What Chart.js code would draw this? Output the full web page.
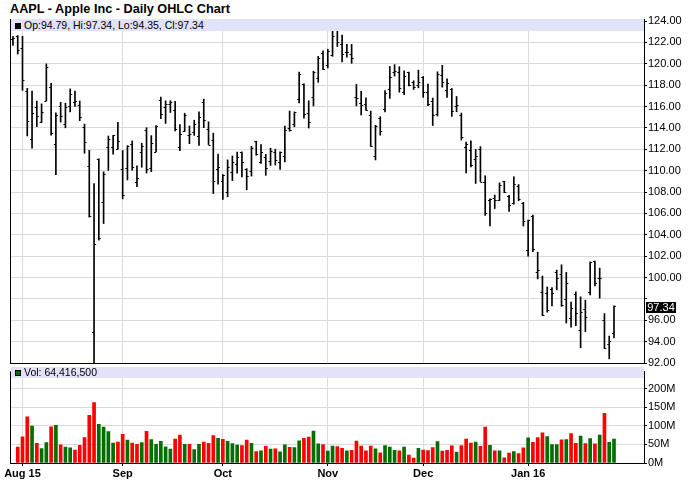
<!DOCTYPE html>
<html lang="en">
<head>
<meta charset="utf-8">
<title>AAPL - Apple Inc - Daily OHLC Chart</title>
<script src="https://cdn.jsdelivr.net/npm/chart.js@4.4.1/dist/chart.umd.min.js"></script>
<style>
    body { margin: 0; background: #fff; font-family: "Liberation Sans", Arial, sans-serif; }
    #wrap { position: relative; width: 688px; height: 503px; overflow: hidden; }
    #title { position: absolute; left: 10px; top: 2px; font-weight: bold; font-size: 12.7px; white-space: nowrap; }
    .pane { position: absolute; left: 0; width: 688px; }
    #pricePane { top: 0; height: 374px; }
    #volPane { top: 364px; height: 139px; }
    .band { position: absolute; left: 11px; width: 633px; background: #e2e2f9; font-size: 10.5px; white-space: nowrap; }
    #priceBand { top: 19px; height: 12px; line-height: 12px; }
    #volBand { top: 367px; height: 11px; line-height: 11px; }
    .band i { display: inline-block; width: 4px; height: 4px; border: 1px solid #000; margin: 0 3px 0 4px; vertical-align: 0; }
    #lastBox { position: absolute; left: 646px; width: 30px; height: 11px; line-height: 11px; background: #000; color: #fff; font-size: 11px; text-align: center; }
</style>
</head>
<body>
<div id="wrap">
    <div id="title">AAPL - Apple Inc - Daily OHLC Chart</div>
    <div class="pane" id="pricePane"><canvas id="priceChart"></canvas></div>
    <div class="pane" id="volPane"><canvas id="volChart"></canvas></div>
    <div class="band" id="priceBand"></div>
    <div class="band" id="volBand"></div>
    <div id="lastBox"></div>
</div>
<script>
// Торговые дни (30.07.2015 - 29.01.2016)
const dates = [
    '07-30','07-31','08-03','08-04','08-05','08-06','08-07','08-10','08-11','08-12','08-13','08-14','08-17','08-18','08-19','08-20','08-21',
    '08-24','08-25','08-26','08-27','08-28','08-31','09-01','09-02','09-03','09-04','09-08','09-09','09-10','09-11','09-14','09-15','09-16',
    '09-17','09-18','09-21','09-22','09-23','09-24','09-25','09-28','09-29','09-30','10-01','10-02','10-05','10-06','10-07','10-08','10-09',
    '10-12','10-13','10-14','10-15','10-16','10-19','10-20','10-21','10-22','10-23','10-26','10-27','10-28','10-29','10-30','11-02','11-03',
    '11-04','11-05','11-06','11-09','11-10','11-11','11-12','11-13','11-16','11-17','11-18','11-19','11-20','11-23','11-24','11-25','11-27',
    '11-30','12-01','12-02','12-03','12-04','12-07','12-08','12-09','12-10','12-11','12-14','12-15','12-16','12-17','12-18','12-21','12-22',
    '12-23','12-24','12-28','12-29','12-30','12-31','01-04','01-05','01-06','01-07','01-08','01-11','01-12','01-13','01-14','01-15','01-19',
    '01-20','01-21','01-22','01-25','01-26','01-27','01-28','01-29'
];

const opens = [
    122.32,122.60,121.50,117.42,112.95,115.97,114.58,116.53,117.81,112.53,116.04,114.32,116.04,116.43,116.10,114.08,110.43,
    94.87,111.11,107.09,112.23,112.17,112.03,110.15,110.23,112.49,108.97,111.75,113.76,110.27,111.79,116.58,115.93,116.25,
    115.66,112.21,113.67,113.38,113.63,113.25,116.44,113.85,112.83,110.17,109.07,108.01,109.88,110.63,111.74,110.19,110.00,
    112.73,110.82,111.29,110.93,111.78,110.80,111.34,114.00,114.33,116.70,118.08,115.40,116.93,118.70,120.99,119.87,120.79,
    123.13,121.85,121.11,120.96,116.90,116.37,116.26,115.20,111.38,114.92,115.76,117.64,119.20,119.27,117.33,119.21,118.29,
    117.99,118.75,117.34,116.55,115.29,118.98,117.52,117.64,116.04,115.19,112.18,111.94,111.07,112.02,108.91,107.28,107.40,
    107.27,109.00,107.59,106.96,108.58,107.01,102.61,105.75,100.56,98.68,98.55,98.97,100.55,100.32,97.96,96.20,98.41,
    95.10,97.06,98.63,101.52,99.93,96.04,93.79,94.79
];

const highs = [
    122.57,122.64,122.57,117.70,117.44,116.50,116.25,119.99,118.18,115.42,116.40,116.31,117.65,117.44,116.52,114.35,111.90,
    108.80,111.11,109.89,113.24,113.31,114.53,111.88,112.34,112.78,110.45,112.56,114.02,113.28,114.21,116.89,116.53,116.54,
    116.49,114.30,115.37,114.18,114.72,115.50,116.69,114.57,113.51,111.54,109.62,111.01,111.37,111.74,111.77,110.19,112.28,
    112.75,112.45,111.52,112.10,112.00,111.75,114.17,115.58,115.50,119.23,118.13,116.54,119.30,120.69,121.22,121.36,123.49,
    123.82,122.69,121.81,121.81,118.07,117.42,116.82,115.57,114.24,115.05,117.49,119.75,119.92,119.73,119.35,119.23,118.41,
    119.41,118.81,118.11,116.79,119.25,119.86,118.60,117.69,116.94,115.39,112.68,112.80,111.99,112.25,109.52,107.37,107.72,
    108.85,109.00,107.69,109.43,108.70,107.03,105.37,105.85,102.37,100.13,99.11,99.06,100.69,101.19,100.48,97.71,98.65,
    98.19,97.88,101.46,101.53,100.88,96.63,94.52,97.34
];

const lows = [
    121.71,120.91,117.52,113.25,112.10,114.12,114.50,116.53,113.33,109.63,114.54,114.01,115.50,116.01,114.68,111.63,105.65,
    92.00,103.50,105.05,110.02,111.54,112.00,107.36,109.13,110.04,108.51,110.32,109.77,109.90,111.76,114.86,114.42,115.44,
    113.72,111.87,113.66,112.52,113.30,112.37,114.02,112.44,107.86,108.73,107.31,107.55,109.07,109.77,109.41,108.21,109.49,
    111.44,110.68,109.56,110.49,110.53,110.11,110.82,113.70,114.10,116.33,114.92,113.99,116.06,118.27,119.45,119.61,120.70,
    121.62,120.18,120.62,120.05,116.06,115.21,115.65,112.27,111.00,113.32,115.50,116.76,118.85,117.34,117.12,117.92,117.60,
    117.75,116.86,116.08,114.22,115.11,117.81,116.86,115.08,115.51,112.85,109.79,110.35,108.80,108.98,105.81,104.82,106.45,
    107.20,107.95,106.18,106.86,107.18,104.82,102.00,102.41,99.87,96.43,96.76,97.34,98.84,97.30,95.74,95.36,95.50,
    93.42,94.94,98.37,99.21,98.07,93.34,92.39,94.35
];

const closes = [
    122.37,121.30,118.44,114.64,115.40,115.13,115.52,119.72,113.49,115.24,115.15,115.96,117.16,116.50,115.01,112.65,105.76,
    103.12,103.74,109.69,112.92,113.29,112.76,107.72,112.34,110.37,109.27,112.31,110.15,112.57,114.21,115.31,116.28,116.41,
    113.92,113.45,115.21,113.40,114.32,115.00,114.71,112.44,109.06,110.30,109.58,110.38,110.78,111.31,110.78,109.50,112.12,
    111.60,111.79,110.21,111.86,111.04,111.73,113.77,113.76,115.50,119.08,115.28,114.55,119.27,120.53,119.50,121.18,122.57,
    122.00,120.92,121.06,120.57,116.77,116.11,115.72,112.34,114.18,113.69,117.29,118.78,119.30,117.75,118.88,118.03,117.81,
    118.30,117.34,116.28,115.20,119.03,118.28,118.23,115.62,116.17,113.18,112.48,110.49,111.34,108.98,106.03,107.33,107.23,
    108.61,108.03,106.82,108.74,107.32,105.26,105.35,102.71,100.70,96.45,96.96,98.53,99.96,97.39,99.52,97.13,96.66,
    96.79,96.30,101.42,99.44,99.99,93.42,94.09,97.34
];

// Объём, млн акций (для первого дня столбик не рисуется)
const volumes = [
    null,42.9,70.0,124.1,99.3,52.9,38.7,54.9,97.4,101.2,48.5,42.9,40.6,34.5,47.4,68.5,128.3,
    162.2,103.6,96.8,84.6,53.6,56.2,76.8,61.9,53.2,49.9,54.8,85.0,62.9,49.9,58.4,43.3,37.2,
    64.1,74.7,50.2,50.3,35.8,50.2,56.2,52.6,73.4,66.5,63.7,58.0,52.1,48.2,46.6,61.7,52.8,
    30.5,33.0,44.5,37.7,38.2,29.8,48.8,41.8,41.3,59.4,66.0,69.9,85.6,51.8,49.4,32.2,45.6,
    44.1,39.6,33.0,33.9,59.1,45.2,32.5,45.8,38.1,27.4,46.7,43.0,34.3,32.4,42.8,21.4,13.0,
    39.2,34.9,33.4,41.6,57.8,32.1,34.1,46.4,29.2,46.9,64.3,53.3,56.2,44.8,96.5,47.6,32.8,
    32.7,13.6,26.7,30.9,25.2,40.9,67.6,55.8,68.5,81.1,70.8,49.7,49.2,62.4,63.2,79.0,53.1,
    72.3,52.2,65.8,51.8,75.1,133.4,55.7,64.4165
];

// Подписи осей
const monthIdx = [2, 23, 44, 66, 86, 108];
const monthLabels = ['Aug 15', 'Sep', 'Oct', 'Nov', 'Dec', 'Jan 16'];
const priceTicks = [92, 94, 96, 98, 100, 102, 104, 106, 108, 110, 112, 114, 116, 118, 120, 122, 124];
const volTicks = [0, 50, 100, 150, 200];

const FONT = '"Liberation Sans", Arial, sans-serif';
const GRID = '#dadada';
const X_MIN = -0.62;
const X_MAX = 132.29;

const last = closes.length - 1;
const lastClose = closes[last];

// Засечки открытия и закрытия
const ohlcTicks = {
    id: 'ohlcTicks',
    afterDatasetsDraw(chart) {
        const { ctx, chartArea: a, scales: { x, y } } = chart;
        ctx.save();
        ctx.beginPath();
        ctx.rect(a.left, a.top, a.right - a.left, a.bottom - a.top);
        ctx.clip();
        ctx.strokeStyle = '#000';
        ctx.lineWidth = 1;
        ctx.beginPath();
        for (let i = 0; i < closes.length; i++) {
            const px = x.getPixelForValue(i);
            const po = Math.round(y.getPixelForValue(opens[i])) + 0.5;
            const pc = Math.round(y.getPixelForValue(closes[i])) + 0.5;
            ctx.moveTo(px - 2, po); ctx.lineTo(px, po);
            ctx.moveTo(px, pc); ctx.lineTo(px + 2, pc);
        }
        ctx.stroke();
        ctx.restore();
    }
};

// Рамка панели (левая граница и, при необходимости, верхняя)
const frame = {
    id: 'frame',
    afterDraw(chart, args, opts) {
        const { ctx, chartArea: a } = chart;
        ctx.save();
        ctx.strokeStyle = '#000';
        ctx.lineWidth = 1;
        ctx.beginPath();
        ctx.moveTo(a.left + 0.5, a.top);
        ctx.lineTo(a.left + 0.5, a.bottom);
        if (opts.top) {
            ctx.moveTo(a.left, a.top + 0.5);
            ctx.lineTo(a.right, a.top + 0.5);
        }
        ctx.stroke();
        ctx.restore();
    }
};

// Метка последней цены на правой оси
const lastPrice = {
    id: 'lastPrice',
    afterDraw(chart) {
        const box = document.getElementById('lastBox');
        box.textContent = lastClose.toFixed(2);
        box.style.top = (chart.scales.y.getPixelForValue(lastClose) - 4) + 'px';
    }
};

function xAxis(showLabels) {
    return {
        type: 'linear',
        min: X_MIN,
        max: X_MAX,
        offset: false,
        grid: { offset: false, color: GRID, drawTicks: showLabels, tickLength: 3, tickColor: '#000' },
        border: { display: true, color: '#000' },
        ticks: {
            display: showLabels,
            autoSkip: false,
            maxRotation: 0,
            padding: 1,
            color: '#000',
            font: { family: FONT, size: 11, weight: 'bold' },
            callback: (v, i) => monthLabels[i]
        },
        afterBuildTicks: s => { s.ticks = monthIdx.map(v => ({ value: v })); },
        afterFit: s => { s.height = showLabels ? 22 : 0; }
    };
}

function yAxis(min, max, ticks, fmt) {
    return {
        position: 'right',
        min: min,
        max: max,
        grid: { color: GRID, tickColor: '#000', tickLength: 3 },
        border: { color: '#000' },
        ticks: { color: '#000', padding: 1, font: { family: FONT, size: 11 }, callback: fmt },
        afterBuildTicks: s => { s.ticks = ticks.map(v => ({ value: v })); },
        afterFit: s => { s.width = 44; }
    };
}

document.addEventListener('DOMContentLoaded', function() {
    // Заголовки панелей
    document.getElementById('priceBand').innerHTML = '<i style="background:#000"></i>' +
        `Op:${opens[last].toFixed(2)}, Hi:${highs[last].toFixed(2)}, Lo:${lows[last].toFixed(2)}, Cl:${closes[last].toFixed(2)}`;
    document.getElementById('volBand').innerHTML = '<i style="background:#006f00"></i>' +
        'Vol: ' + Math.round(volumes[last] * 1e6).toLocaleString('en-US');

    // График цен (OHLC)
    new Chart(document.getElementById('priceChart'), {
        type: 'bar',
        data: {
            datasets: [{
                data: dates.map((d, i) => ({ x: i, y: [lows[i], highs[i]] })),
                backgroundColor: '#000',
                barThickness: 1,
                borderWidth: 0
            }]
        },
        options: {
            responsive: true,
            maintainAspectRatio: false,
            animation: false,
            layout: { padding: { left: 10, top: 19, right: 0, bottom: 11 } },
            plugins: { legend: { display: false }, tooltip: { enabled: false } },
            scales: {
                x: xAxis(false),
                y: yAxis(92, 124.19, priceTicks, v => Math.abs(v - lastClose) < 1 ? '' : v.toFixed(2))
            }
        },
        plugins: [ohlcTicks, frame, lastPrice]
    });

    // График объёма
    new Chart(document.getElementById('volChart'), {
        type: 'bar',
        data: {
            datasets: [{
                data: volumes.map((v, i) => ({ x: i, y: v })),
                backgroundColor: closes.map((c, i) => i > 0 && c >= closes[i - 1] ? '#006f00' : '#ff0000'),
                barThickness: 3,
                borderWidth: 0
            }]
        },
        options: {
            responsive: true,
            maintainAspectRatio: false,
            animation: false,
            layout: { padding: { left: 10, top: 2, right: 0, bottom: 18 } },
            plugins: { legend: { display: false }, tooltip: { enabled: false }, frame: { top: true } },
            scales: {
                x: xAxis(true),
                y: yAxis(0, 245.6, volTicks, v => v + 'M')
            }
        },
        plugins: [frame]
    });
});
</script>
</body>
</html>
